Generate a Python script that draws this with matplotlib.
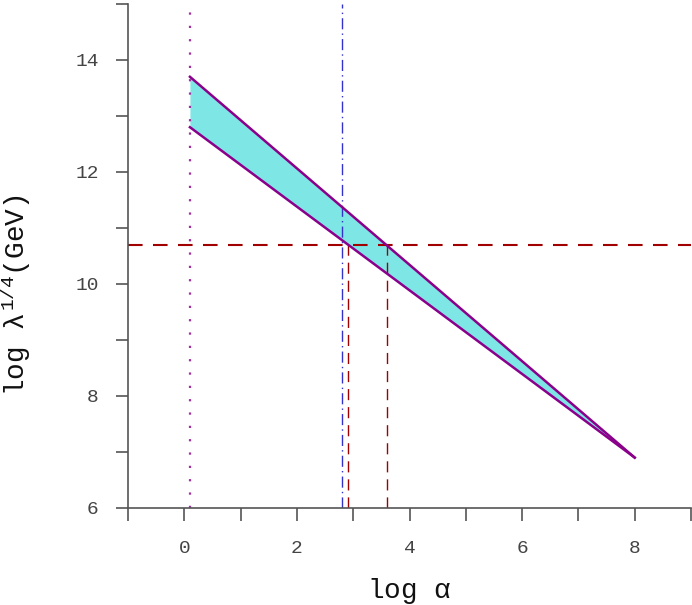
import numpy as np
import matplotlib
matplotlib.use("Agg")
import matplotlib.pyplot as plt

plt.rcParams['font.family'] = ['Liberation Mono', 'DejaVu Sans Mono']
plt.rcParams['mathtext.fontset'] = 'custom'
plt.rcParams['mathtext.rm'] = 'Liberation Mono'
plt.rcParams['mathtext.it'] = 'Liberation Mono'

# band edges (log alpha, log lambda^1/4)
band_x = [0.1, 8.0]
upper_y = [13.7, 6.9]
lower_y = [12.8, 6.9]

# reference lines
y_ref = 10.7
x_dotted = 0.1
x_dashdot = 2.8
x_cross = [2.9, 3.6]

xticks = [0, 2, 4, 6, 8]
yticks = [6, 8, 10, 12, 14]

fig = plt.figure(figsize=(6.92, 6.05), dpi=100)
ax = fig.add_axes([128/692, 97/605, (691-128)/692, (508-4)/605])

ax.fill_between(band_x, lower_y, upper_y, color='#7fe6e6', lw=0, zorder=1)
ax.plot(band_x, upper_y, color='#8b008b', lw=1.8, zorder=3)
ax.plot(band_x, lower_y, color='#8b008b', lw=1.8, zorder=3)

ax.axvline(x_dotted, color='#a030a0', lw=1.6, ls=(0, (1, 5)), zorder=2)
ax.axvline(x_dashdot, color='#3333cc', lw=1.0, ls=(0, (8, 3, 1, 3)), zorder=2)
ax.axhline(y_ref, color='#a00000', lw=1.5, ls=(0, (7, 5)), zorder=2)
for xc in x_cross:
    ax.plot([xc, xc], [6, y_ref], color='#a00000', lw=1.0, ls=(0, (8, 5)), zorder=2)

ax.set_xlim(-1, 9)
ax.set_ylim(6, 15)
ax.set_xticks(np.arange(-1, 10, 1))
ax.set_xticklabels(['' if v not in xticks else str(v) for v in range(-1, 10)])
ax.set_yticks(np.arange(6, 16, 1))
ax.set_yticklabels(['' if v not in yticks else str(v) for v in range(6, 16)])

for s in ['top', 'right']:
    ax.spines[s].set_visible(False)
for s in ['left', 'bottom']:
    ax.spines[s].set_color('#555555')
    ax.spines[s].set_linewidth(1.2)
ax.tick_params(axis='both', direction='out', length=9, width=1.2, color='#555555',
               labelsize=14, labelcolor='#444444')
ax.tick_params(axis='x', pad=14)
ax.tick_params(axis='y', pad=12)

ax.set_xlabel(r'log $\alpha$', fontsize=20, labelpad=14, color='#111111')
ax.set_ylabel(r'log $\lambda^{1/4}$(GeV)', fontsize=20, color='#111111')
ax.yaxis.set_label_coords(-0.168, 0.423)

fig.savefig('out.png', dpi=100)
